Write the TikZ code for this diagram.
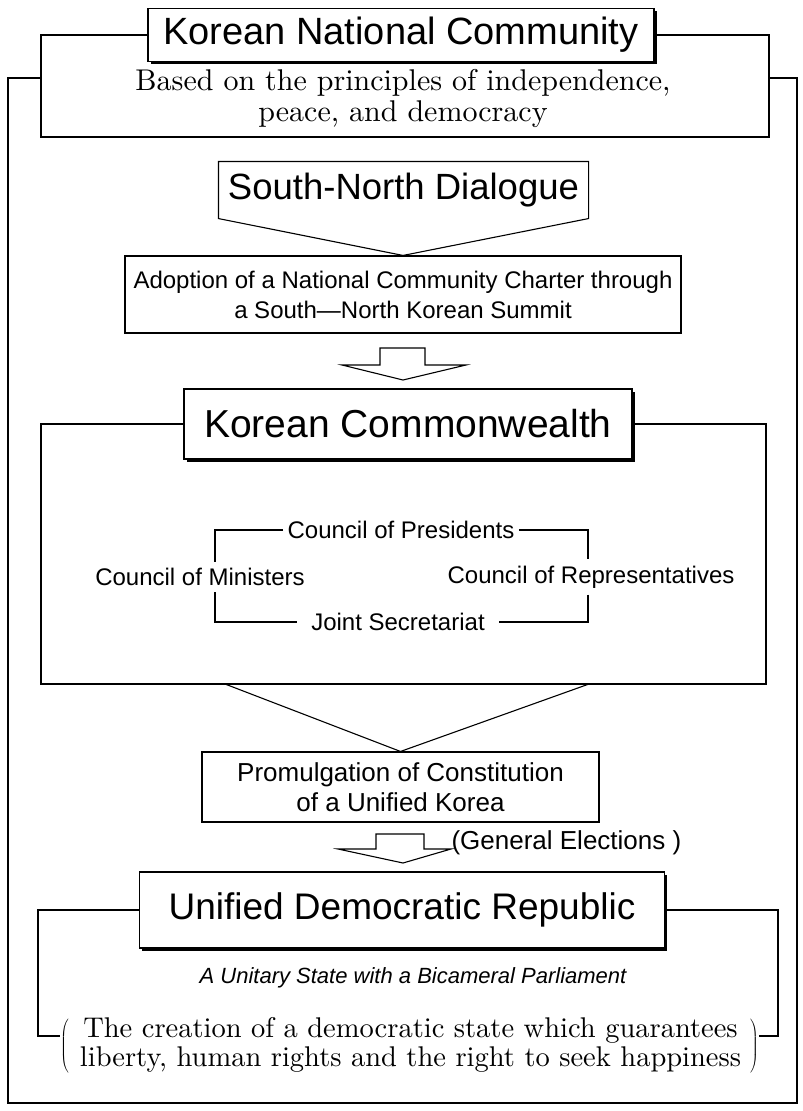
\documentclass[tikz,border=0pt]{standalone}
\usepackage{fontspec}
\setsansfont{Liberation Sans}
\newfontfamily\cmserif{lmroman10-regular.otf}
\usetikzlibrary{shadows}

\begin{document}
\begin{tikzpicture}[x=1pt, y=-1pt, line width=1.1pt,
  titlebox/.style={draw, fill=white, line width=1.2pt, inner sep=0pt,
    drop shadow={shadow xshift=2.5pt, shadow yshift=-2.5pt, fill=black, opacity=1}},
  outlinebox/.style={draw, inner sep=0pt},
  sanslabel/.style={font=\sffamily\fontsize{24}{30}\selectfont, align=center},
  seriflabel/.style={font=\cmserif\fontsize{30}{31}\selectfont, align=center, inner sep=0pt},
  hollow/.style={draw, line join=miter, fill=white}]
  \useasboundingbox (0,0) rectangle (803,1111);

  \node[outlinebox, minimum width=728pt, minimum height=102pt] (kncbox) at (405,86) {};
  \coordinate (outerTL) at (8,78);
  \coordinate (outerBR) at (797,1103);
  \draw[line width=2pt] (kncbox.west |- outerTL) -- (outerTL) -- (outerTL |- outerBR)
    -- (outerBR) -- (outerBR |- outerTL) -- (kncbox.east |- outerTL);
  \node[titlebox, minimum width=506pt, minimum height=53pt,
    font=\sffamily\fontsize{38}{44}\selectfont] (knctitle) at (401,35) {Korean National Community};
  \node[seriflabel] (kncdesc) at (403,98) {Based on the principles of independence,\\ peace, and democracy};

  \node[sanslabel, font=\sffamily\fontsize{36.5}{40}\selectfont, minimum width=369pt,
    minimum height=56pt, inner sep=0pt] (snd) at (403.5,190) {South-North Dialogue};
  \node[draw, sanslabel, minimum width=556pt, minimum height=77pt] (adopt) at (403,294.5)
    {Adoption of a National Community Charter through\\ a South—North Korean Summit};
  \draw (snd.north west) -- (snd.south west) -- (adopt.north) -- (snd.south east) -- (snd.north east) -- cycle;

  \draw[hollow] (380,348) -- (425,348) -- (425,365) -- (466,365) -- (403,380) -- (342,365) -- (380,365) -- cycle;

  \node[outlinebox, minimum width=725pt, minimum height=260pt] (cwbox) at (403.5,554) {};
  \node[titlebox, minimum width=448pt, minimum height=70pt,
    font=\sffamily\fontsize{39}{44}\selectfont] (cwtitle) at (408,424) {Korean Commonwealth};

  \node[sanslabel, inner xsep=4pt, inner ysep=6pt] (pres) at (401,530) {Council of Presidents};
  \node[sanslabel, inner ysep=6pt] (mins) at (200,577) {Council of Ministers};
  \node[sanslabel, inner ysep=6pt] (reps) at (591,577) {Council of Representatives};
  \node[sanslabel, inner xsep=14pt] (joint) at (398,622) {Joint Secretariat};
  \coordinate (brTL) at (215,530);
  \coordinate (brBR) at (588,622);
  \draw (pres.west) -- (pres.west -| brTL) -- (mins.north -| brTL);
  \draw (mins.south -| brTL) -- (joint.west -| brTL) -- (joint.west);
  \draw (pres.east) -- (pres.east -| brBR) -- (reps.north -| brBR);
  \draw (reps.south -| brBR) -- (joint.east -| brBR) -- (joint.east);

  \node[draw, sanslabel, font=\sffamily\fontsize{26}{30}\selectfont, minimum width=397pt,
    minimum height=70pt] (promul) at (400.5,787) {Promulgation of Constitution\\ of a Unified Korea};
  \coordinate (cwL) at (225,684);
  \coordinate (cwR) at (589,684);
  \draw (cwL) -- (promul.north) -- (cwR);

  \draw[hollow] (376,834) -- (424,834) -- (424,849) -- (451,849) -- (403,863) -- (338,849) -- (376,849) -- cycle;
  \node[sanslabel, font=\sffamily\fontsize{26}{30}\selectfont, anchor=west, inner sep=0pt]
    (elect) at (451,843) {(General Elections )};

  \node[titlebox, minimum width=525pt, minimum height=76pt,
    font=\sffamily\fontsize{37}{44}\selectfont] (udrtitle) at (402,910) {Unified Democratic Republic};
  \node[font=\sffamily\itshape\fontsize{22}{26}\selectfont] (udrsub) at (413,978)
    {A Unitary State with a Bicameral Parliament};
  \node[seriflabel, font=\cmserif\fontsize{28.5}{29}\selectfont] (freedom) at (409.5,1046)
    {$\left(\hspace{11pt}\vcenter{\hbox{\begin{tabular}{@{}c@{}}The creation of a democratic state which guarantees\\
      liberty, human rights and the right to seek happiness\end{tabular}}}\hspace{9pt}\right)$};
  \coordinate (udrL) at (38,1036);
  \coordinate (udrR) at (778,1036);
  \draw (udrtitle.west) -| (udrL) -- (udrL -| freedom.west);
  \draw (udrtitle.east) -| (udrR) -- (udrR -| freedom.east);
\end{tikzpicture}
\end{document}
